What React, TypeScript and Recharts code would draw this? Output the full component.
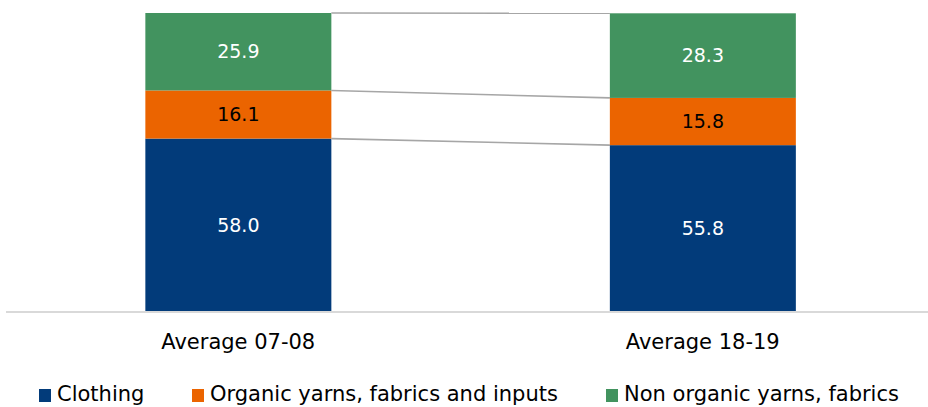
import React from "react";
import { BarChart, Bar, XAxis, YAxis, LabelList, Legend } from "recharts";

const categories = ["Average 07-08", "Average 18-19"];
const clothing = [58.0, 55.8];
const organic = [16.1, 15.8];
const nonOrganic = [25.9, 28.3];

const seriesKeys = ["clothing", "organic", "nonOrganic"];
const seriesNames = ["Clothing", "Organic yarns, fabrics and inputs", "Non organic yarns, fabrics"];
const seriesColors = ["#023B7A", "#EB6400", "#42935F"];
const labelColors = ["#FFFFFF", "#000000", "#FFFFFF"];

const data = categories.map((name, i) => ({
  name,
  clothing: clothing[i],
  organic: organic[i],
  nonOrganic: nonOrganic[i],
}));

const CHART_W = 940;
const CHART_H = 407;
const MARGIN = { top: 13, right: 5, bottom: 0, left: 6 };
const PLOT_W = CHART_W - MARGIN.left - MARGIN.right;
const BAND = PLOT_W / categories.length;
const FONT = "'DejaVu Sans', sans-serif";

// Each segment draws itself plus a series line from its top edge to the
// matching edge of the next bar.
const makeShape = (keyIdx: number) => (props: any) => {
  const { x, y, width, height, fill, index, payload } = props;
  const key = seriesKeys[keyIdx];
  const k = height / payload[key];
  const below = seriesKeys.slice(0, keyIdx).reduce((s, kk) => s + payload[kk], 0);
  const base = y + height + below * k;
  let line = null;
  if (index < data.length - 1) {
    const next = data[index + 1] as any;
    const cumNext = seriesKeys.slice(0, keyIdx + 1).reduce((s, kk) => s + next[kk], 0);
    const yNext = base - cumNext * k;
    line = (
      <line
        x1={x + width}
        y1={y}
        x2={x + BAND}
        y2={yNext}
        stroke="#A6A6A6"
        strokeWidth={1.6}
      />
    );
  }
  return (
    <g>
      <rect x={x} y={y} width={width} height={height} fill={fill} />
      {line}
    </g>
  );
};

const LegendContent = () => (
  <div style={{ position: "relative", height: 24, fontFamily: FONT, fontSize: 21, lineHeight: "24px", color: "#000" }}>
    {seriesNames.map((n, i) => {
      const lefts = [39, 192, 606];
      return (
        <div
          key={n}
          style={{ position: "absolute", left: lefts[i], top: 0, display: "flex", alignItems: "center", whiteSpace: "nowrap" }}
        >
          <span style={{ display: "inline-block", width: 12, height: 13, background: seriesColors[i], marginRight: 6, marginTop: 3 }} />
          <span>{n}</span>
        </div>
      );
    })}
  </div>
);

export default function App() {
  return (
    <div style={{ position: "absolute", left: 0, top: 0, width: 928, height: 407, overflow: "hidden", background: "#fff" }}>
      <BarChart width={CHART_W} height={CHART_H} data={data} margin={MARGIN} barCategoryGap="30%">
        <XAxis
          dataKey="name"
          axisLine={{ stroke: "#D9D9D9", strokeWidth: 2 }}
          tickLine={false}
          tickSize={0}
          tickMargin={22}
          height={95}
          tick={{ fill: "#000", fontSize: 21, fontFamily: FONT }}
        />
        <YAxis hide domain={[0, 100]} />
        {seriesKeys.map((key, i) => (
          <Bar
            key={key}
            dataKey={key}
            name={seriesNames[i]}
            stackId="a"
            fill={seriesColors[i]}
            isAnimationActive={false}
            shape={makeShape(i)}
          >
            <LabelList
              dataKey={key}
              position="center"
              formatter={(v: any) => Number(v).toFixed(1)}
              style={{ fill: labelColors[i], fontSize: 19, fontFamily: FONT }}
            />
          </Bar>
        ))}
        <Legend
          layout="horizontal"
          verticalAlign="middle"
          align="center"
          content={LegendContent}
          wrapperStyle={{ position: "absolute", top: 382, left: 0, width: 928, height: 24 }}
        />
      </BarChart>
    </div>
  );
}
